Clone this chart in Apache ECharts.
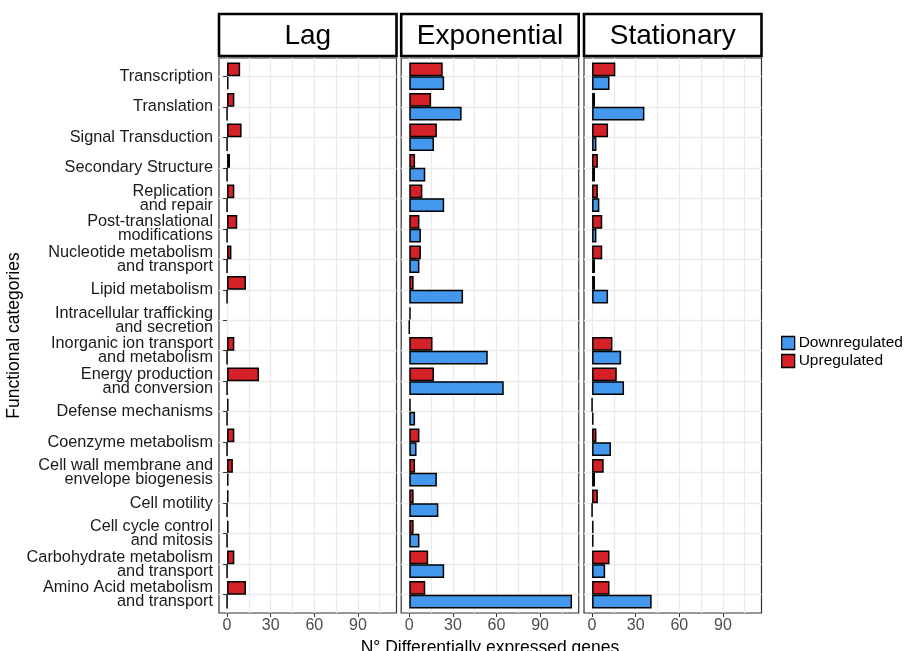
<!DOCTYPE html>
<html><head><meta charset="utf-8">
<script src="https://cdn.jsdelivr.net/npm/echarts@6/dist/echarts.min.js"></script>
<style>html,body{margin:0;padding:0;background:#fff}#chart{width:908px;height:651px}</style>
</head><body><div id="chart"></div>
<script>
const categories = [
  'Transcription', 'Translation', 'Signal Transduction', 'Secondary Structure',
  'Replication\nand repair', 'Post-translational\nmodifications',
  'Nucleotide metabolism\nand transport', 'Lipid metabolism',
  'Intracellular trafficking\nand secretion', 'Inorganic ion transport\nand metabolism',
  'Energy production\nand conversion', 'Defense mechanisms', 'Coenzyme metabolism',
  'Cell wall membrane and\nenvelope biogenesis', 'Cell motility',
  'Cell cycle control\nand mitosis', 'Carbohydrate metabolism\nand transport',
  'Amino Acid metabolism\nand transport'
];
const phases = ['Lag', 'Exponential', 'Stationary'];
const upLag = [9, 5, 10, 2, 5, 7, 3, 13, null, 5, 22, 1, 5, 4, 1, 1, 5, 13];
const downLag = [1, 0, 0, 0, 0, 0, 0, 0, null, 0, 0, 0, 0, 1, 0, 0, 0, 0];
const upExp = [23, 15, 19, 4, 9, 7, 8, 3, 1, 16, 17, 1, 7, 4, 3, 3, 13, 11];
const downExp = [24, 36, 17, 11, 24, 8, 7, 37, 0, 54, 65, 4, 5, 19, 20, 7, 24, 112];
const upStat = [16, 2, 11, 4, 4, 7, 7, 2, null, 14, 17, 0, 3, 8, 4, 1, 12, 12];
const downStat = [12, 36, 3, 2, 5, 3, 2, 11, null, 20, 22, 1, 13, 2, 0, 1, 9, 41];
const xTickLabels = [0, 30, 60, 90];
const xGridValues = [0, 15, 30, 45, 60, 75, 90, 105];
const xMin = -5.55, xMax = 116.55;

const upData = [upLag, upExp, upStat];
const downData = [downLag, downExp, downStat];

const RED = '#D42027', BLUE = '#4398EE';
const FONT = '"Liberation Sans", Arial, sans-serif';
const panelLeft = [219, 401.2, 584];
const panelW = 177.5, panelTop = 58, panelH = 555;
const nCat = categories.length;
const band = panelH / (nCat - 1 + 1.2);
const inset = 0.1 * band;

const grids = [], xAxes = [], yAxes = [], series = [], graphics = [];
phases.forEach((p, i) => {
  grids.push({left: panelLeft[i], top: panelTop, width: panelW, height: panelH,
    outerBoundsMode: 'none', containLabel: false,
    show: true, borderColor: '#333', borderWidth: 1.2, backgroundColor: '#fff'});
  grids.push({left: panelLeft[i], top: panelTop + inset, width: panelW, height: panelH - 2 * inset,
    outerBoundsMode: 'none', containLabel: false});
  xAxes.push({type: 'value', gridIndex: 2 * i, min: xMin, max: xMax,
    axisLine: {show: false}, axisLabel: {show: false},
    axisTick: {show: false, customValues: xGridValues},
    splitLine: {show: true, lineStyle: {color: '#EBEBEB', width: 1.3}}});
  yAxes.push({type: 'value', gridIndex: 2 * i, min: -0.6, max: nCat - 0.4, inverse: true,
    axisLine: {show: false}, axisLabel: {show: false},
    axisTick: {show: false, customValues: categories.map((c, k) => k)},
    splitLine: {show: true, lineStyle: {color: '#EBEBEB', width: 1.3}}});
  const xa = {type: 'value', gridIndex: 2 * i + 1, min: xMin, max: xMax, offset: inset,
    axisLine: {show: false},
    axisTick: {show: true, length: 4, customValues: xTickLabels, lineStyle: {color: '#333', width: 1}},
    axisLabel: {customValues: xTickLabels, color: '#4D4D4D', fontSize: 16, fontFamily: FONT, margin: 5},
    splitLine: {show: false}};
  if (i === 1) {
    Object.assign(xa, {name: 'N° Differentially expressed genes', nameLocation: 'middle', nameGap: 21,
      nameTextStyle: {color: '#000', fontSize: 17.5, fontFamily: FONT}});
  }
  xAxes.push(xa);
  const ya = {type: 'category', gridIndex: 2 * i + 1, data: categories, inverse: true,
    axisLine: {show: false},
    axisTick: {show: i === 0, alignWithLabel: true, length: 4, lineStyle: {color: '#333'}},
    axisLabel: {show: i === 0, color: '#1a1a1a', fontSize: 16.3, fontFamily: FONT, lineHeight: 14, margin: 6, interval: 0},
    splitLine: {show: false}};
  if (i === 0) {
    Object.assign(ya, {name: 'Functional categories', nameLocation: 'middle', nameGap: 189,
      nameTextStyle: {color: '#000', fontSize: 17.5, fontFamily: FONT}});
  }
  yAxes.push(ya);
  series.push({type: 'bar', name: 'Upregulated', xAxisIndex: 2 * i + 1, yAxisIndex: 2 * i + 1,
    data: upData[i], barGap: '0%', barCategoryGap: '10%',
    itemStyle: {color: RED, borderColor: '#000', borderWidth: 1.5}});
  series.push({type: 'bar', name: 'Downregulated', xAxisIndex: 2 * i + 1, yAxisIndex: 2 * i + 1,
    data: downData[i], barGap: '0%', barCategoryGap: '10%',
    itemStyle: {color: BLUE, borderColor: '#000', borderWidth: 1.5}});
  graphics.push({type: 'group', x: panelLeft[i], y: 14, children: [
    {type: 'rect', shape: {x: 0, y: 0, width: panelW, height: 42},
      style: {fill: '#fff', stroke: '#000', lineWidth: 2.6}},
    {type: 'text', x: panelW / 2, y: 22,
      style: {text: p, font: '28px ' + FONT, fill: '#000', align: 'center', verticalAlign: 'middle'}}
  ]});
});

const chart = echarts.init(document.getElementById('chart'), null, {renderer: 'canvas'});
chart.setOption({
  animation: false,
  backgroundColor: '#fff',
  grid: grids, xAxis: xAxes, yAxis: yAxes, series: series,
  graphic: graphics,
  legend: {orient: 'vertical', left: 776, top: 330, itemWidth: 13, itemHeight: 13, itemGap: 2,
    icon: 'rect',
    data: [
      {name: 'Downregulated', itemStyle: {color: BLUE, borderColor: '#000', borderWidth: 1.3}},
      {name: 'Upregulated', itemStyle: {color: RED, borderColor: '#000', borderWidth: 1.3}}
    ],
    textStyle: {fontSize: 15.5, fontFamily: FONT, color: '#000', lineHeight: 14, padding: [0, 0, 0, -1]}}
});
</script></body></html>
